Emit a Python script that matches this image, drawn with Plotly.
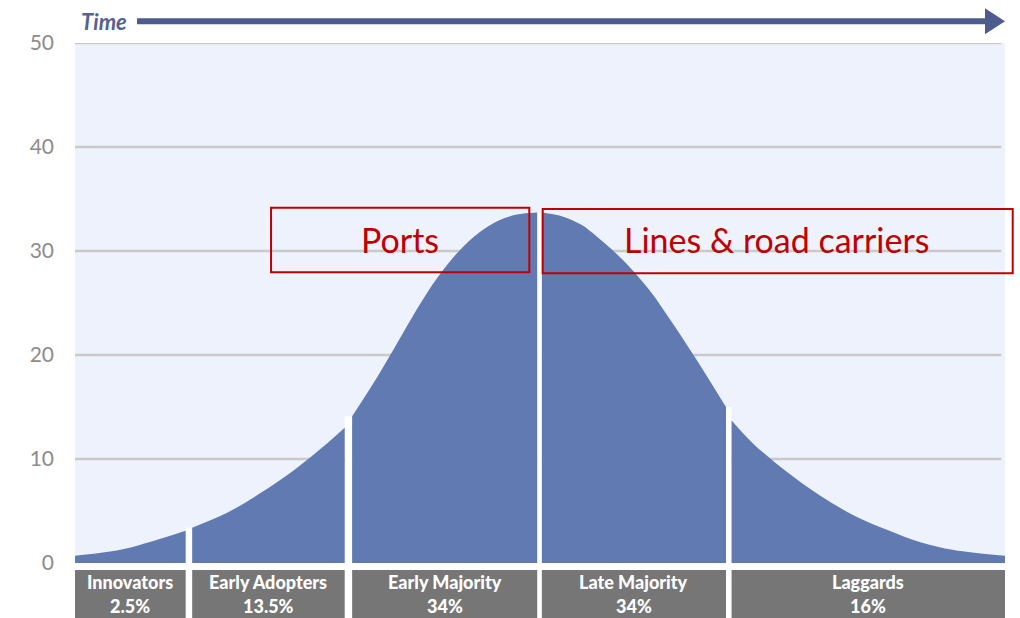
import plotly.graph_objects as go

# ---- data ----
segments = ["Innovators", "Early Adopters", "Early Majority", "Late Majority", "Laggards"]
shares = ["2.5%", "13.5%", "34%", "34%", "16%"]

innov_x = [0.0, 3.0, 6.0, 9.1, 11.9]
innov_y = [0.7, 1.0, 1.5, 2.3, 3.1]
adopt_x = [12.6, 16.3, 19.9, 23.5, 27.1, 29.0]
adopt_y = [3.4, 4.8, 6.7, 8.9, 11.5, 13.0]
early_x = [29.8, 32.1, 33.9, 35.7, 37.8, 39.6, 41.4, 43.5, 45.5, 47.5, 49.7]
early_y = [14.1, 17.3, 20.0, 22.8, 25.9, 28.2, 30.1, 31.8, 32.9, 33.5, 33.7]
late_x = [50.2, 52.5, 54.5, 56.1, 57.9, 59.7, 61.8, 64.0, 66.8, 70.0]
late_y = [33.7, 33.3, 32.5, 31.4, 30.0, 28.4, 26.2, 23.4, 19.6, 15.0]
lag_x = [70.6, 72.9, 76.5, 80.1, 83.7, 87.3, 90.9, 94.5, 100.0]
lag_y = [13.7, 11.5, 8.8, 6.5, 4.6, 3.2, 2.0, 1.25, 0.7]

y_ticks = [0, 10, 20, 30, 40, 50]
grid_values = [10, 20, 30, 40, 50]

callouts = ["Ports", "Lines &amp; road carriers"]

# ---- styles ----
FILL = "#617AB2"
BG = "#EDF2FC"
GRID = "#CACACA"
BOX = "#767676"
RED = "#C00000"
ARROW = "#4D5B8F"

seg_x = [innov_x, adopt_x, early_x, late_x, lag_x]
seg_y = [innov_y, adopt_y, early_y, late_y, lag_y]

fig = go.Figure()

for name, xs, ys in zip(segments, seg_x, seg_y):
    fig.add_trace(go.Scatter(
        x=xs, y=ys, mode="lines", name=name,
        line=dict(color=FILL, width=0, shape="spline", smoothing=1.0),
        fill="tozeroy", fillcolor=FILL, showlegend=False, hoverinfo="skip",
    ))

shapes = []
# gridlines
for g in grid_values:
    shapes.append(dict(type="line", xref="paper", yref="y", x0=0, x1=0.996, y0=g, y1=g,
                       line=dict(color=GRID, width=2.5), layer="between"))
# white gaps between segments
for i in range(len(seg_x) - 1):
    shapes.append(dict(type="rect", xref="x", yref="y",
                       x0=seg_x[i][-1], x1=seg_x[i + 1][0],
                       y0=0, y1=max(seg_y[i][-1], seg_y[i + 1][0]),
                       fillcolor="white", line=dict(width=0), layer="between"))
# category boxes below the curve
annotations = []
lab_font = dict(family="Lato", size=18, color="white", weight=900)
for name, share, xs in zip(segments, shares, seg_x):
    shapes.append(dict(type="rect", xref="x", yref="paper", x0=xs[0], x1=xs[-1],
                       y0=-0.0135, y1=-0.2, fillcolor=BOX, line=dict(width=0)))
    xc = (xs[0] + xs[-1]) / 2
    annotations.append(dict(x=xc, y=-0.0365, xref="x", yref="paper", text=name,
                            showarrow=False, xanchor="center", yanchor="middle",
                            borderpad=0, font=lab_font))
    annotations.append(dict(x=xc, y=-0.0827, xref="x", yref="paper", text=share,
                            showarrow=False, xanchor="center", yanchor="middle",
                            borderpad=0, font=lab_font))

# Time arrow
shapes.append(dict(type="line", xref="paper", yref="paper", x0=0.0667, x1=0.982,
                   y0=1.0417, y1=1.0417, line=dict(color=ARROW, width=6)))
shapes.append(dict(type="path", xref="paper", yref="paper",
                   path="M 0.9785 1.0667 L 1.0 1.0417 L 0.9785 1.0167 Z",
                   fillcolor=ARROW, line=dict(color=ARROW, width=0)))
annotations.append(dict(x=0.031, y=1.0417, xref="paper", yref="paper", text="Time",
                        showarrow=False, xanchor="center", yanchor="middle",
                        font=dict(family="Lato", size=22, color="#56628F",
                                  weight="bold", style="italic")))

# red callout boxes
shapes.append(dict(type="rect", xref="paper", yref="paper", x0=0.2108, x1=0.4885,
                   y0=0.559, y1=0.6833, line=dict(color=RED, width=2)))
shapes.append(dict(type="rect", xref="paper", yref="paper", x0=0.5029, x1=1.0083,
                   y0=0.5571, y1=0.6808, line=dict(color=RED, width=2)))
annotations.append(dict(x=0.3495, y=0.622, xref="paper", yref="paper", text=callouts[0],
                        showarrow=False, xanchor="center", yanchor="middle",
                        font=dict(family="Lato", size=34, color=RED)))
annotations.append(dict(x=0.7548, y=0.622, xref="paper", yref="paper", text=callouts[1],
                        showarrow=False, xanchor="center", yanchor="middle",
                        font=dict(family="Lato", size=34, color=RED)))

fig.update_layout(
    width=1020, height=618,
    margin=dict(l=75, r=15, t=43, b=55),
    paper_bgcolor="white", plot_bgcolor=BG,
    shapes=shapes, annotations=annotations,
    xaxis=dict(range=[0, 100], visible=False, fixedrange=True),
    yaxis=dict(range=[0, 50], tickvals=y_ticks, showgrid=False, zeroline=False,
               showline=False, ticks="", ticklabelstandoff=20, fixedrange=True,
               tickfont=dict(family="Lato", size=21, color="#8C8C8C")),
)

fig.write_html("out.html", config={"displayModeBar": False},
               post_script="document.body.style.margin='0';document.body.style.overflow='hidden';")
